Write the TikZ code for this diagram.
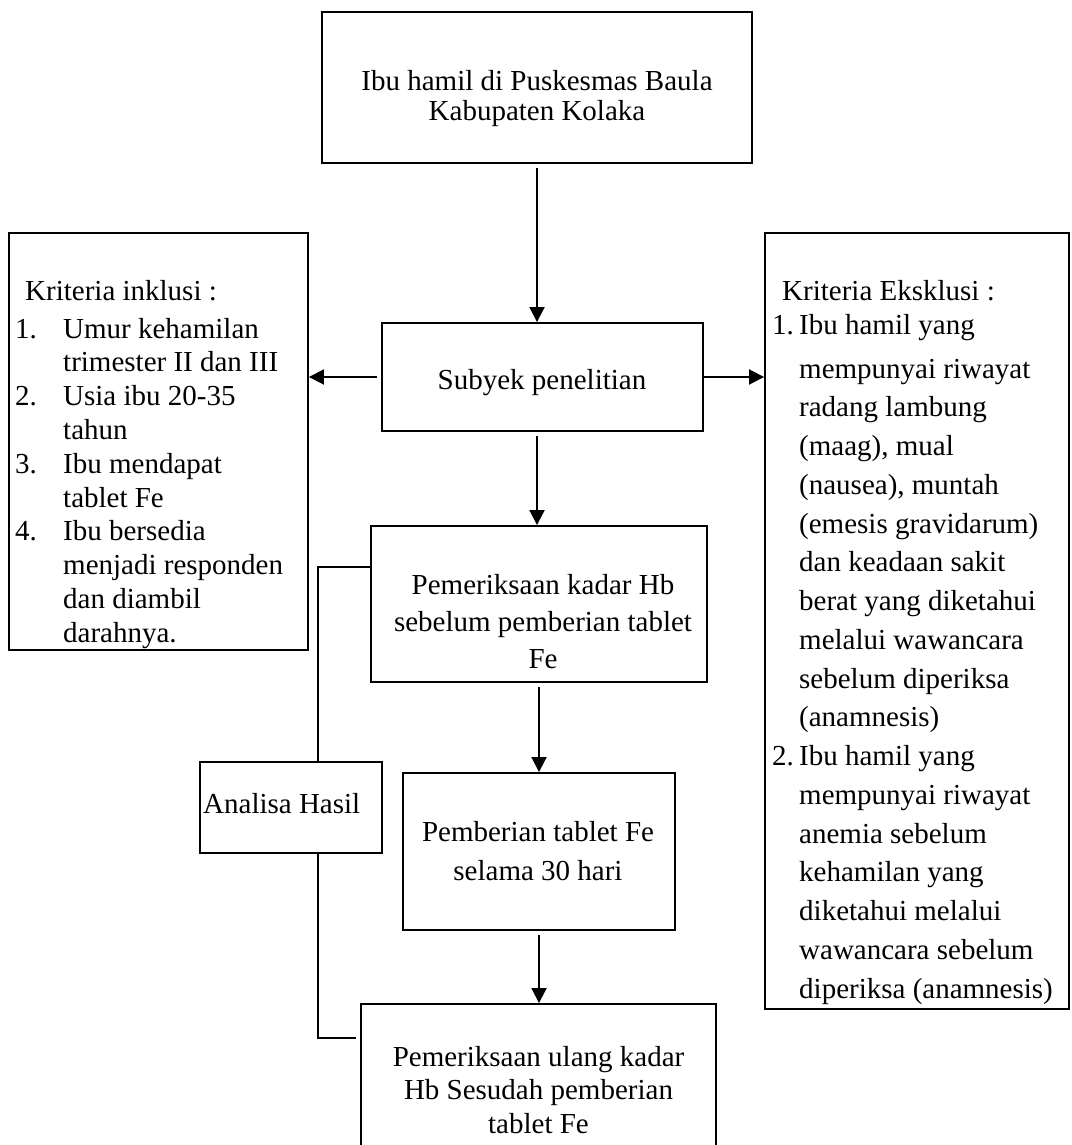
\documentclass[tikz,border=0pt]{standalone}
\usepackage{fontspec}
\setmainfont{Liberation Serif}
\usetikzlibrary{arrows.meta}
\newcommand\fsz[2]{\fontsize{#1}{#2}\selectfont}
\begin{document}
\begin{tikzpicture}[x=1pt,y=-1pt,
  box/.style={draw, line width=1.9pt, inner sep=0pt},
  thinbox/.style={draw, line width=1.2pt, inner sep=0pt},
  txt/.style={inner sep=0pt, anchor=base},
  arr/.style={line width=1.9pt, -{Triangle[length=15pt,width=15pt]}, shorten <=4pt},
  thinline/.style={line width=1.2pt}]
\useasboundingbox (0,0) rectangle (1071,1145);
\fill[white] (0,0) rectangle (1071,1145);
\clip (0,0) rectangle (1071,1145);

% boxes
\node[box, minimum width=430pt, minimum height=151pt] (top) at (537,87.5) {};
\node[box, minimum width=321pt, minimum height=108pt] (sub) at (542.5,377) {};
\node[box, minimum width=299pt, minimum height=417pt] (inc) at (158.5,441.5) {};
\node[box, minimum width=304pt, minimum height=776pt] (exc) at (917,621) {};
\node[box, minimum width=336pt, minimum height=156pt] (pre) at (539,604) {};
\node[box, minimum width=272pt, minimum height=157pt] (fe) at (539,851.5) {};
\node[box, minimum width=355pt, minimum height=156pt] (post) at (538.5,1082) {};
\node[thinbox, minimum width=182pt, minimum height=91pt] (ana) at (291,807.5) {};

% texts
\node[txt, font=\fsz{29}{29.5}] (topt) at (537,91)
  {\begin{tabular}[t]{@{}c@{}}Ibu hamil di Puskesmas Baula\\Kabupaten Kolaka\end{tabular}};
\node[txt, font=\fsz{29}{34}] (subt) at (542,389) {Subyek penelitian};
\node[txt, font=\fsz{29}{37}] (pret) at (543,594)
  {\begin{tabular}[t]{@{}c@{}}Pemeriksaan kadar Hb\\sebelum pemberian tablet\\Fe\end{tabular}};
\node[txt, font=\fsz{29}{39}] (fet) at (538,841)
  {\begin{tabular}[t]{@{}c@{}}Pemberian tablet Fe\\selama 30 hari\end{tabular}};
\node[txt, font=\fsz{29}{33.5}] (postt) at (538.5,1066)
  {\begin{tabular}[t]{@{}c@{}}Pemeriksaan ulang kadar\\Hb Sesudah pemberian\\tablet Fe\end{tabular}};
\node[txt, anchor=base west, font=\fsz{29}{34}] (anat) at (203,813) {Analisa Hasil};

\node[txt, anchor=base west, font=\fsz{29}{33.8}] (inct) at (15,300)
  {\begin{tabular}[t]{@{}p{48pt}@{}l@{}}
  \multicolumn{2}{@{}l@{}}{\hspace{10pt}Kriteria inklusi :}\\[4.2pt]
  1. & Umur kehamilan\\
     & trimester II dan III\\
  2. & Usia ibu 20-35\\
     & tahun\\
  3. & Ibu mendapat\\
     & tablet Fe\\
  4. & Ibu bersedia\\
     & menjadi responden\\
     & dan diambil\\
     & darahnya.
  \end{tabular}};

\node[txt, anchor=base west, font=\fsz{29}{38.75}] (exct) at (772,300)
  {\begin{tabular}[t]{@{}p{27pt}@{}l@{}}
  \multicolumn{2}{@{}l@{}}{\hspace{10pt}Kriteria Eksklusi :}\\[-4.75pt]
  1. & Ibu hamil yang\\[5.25pt]
     & mempunyai riwayat\\
     & radang lambung\\
     & (maag), mual\\
     & (nausea), muntah\\
     & (emesis gravidarum)\\
     & dan keadaan sakit\\
     & berat yang diketahui\\
     & melalui wawancara\\
     & sebelum diperiksa\\
     & (anamnesis)\\
  2. & Ibu hamil yang\\
     & mempunyai riwayat\\
     & anemia sebelum\\
     & kehamilan yang\\
     & diketahui melalui\\
     & wawancara sebelum\\
     & diperiksa (anamnesis)
  \end{tabular}};

% arrows
\draw[arr] (top.south) -- (top.south |- sub.north);
\draw[arr] (sub.west) -- (sub.west -| inc.east);
\draw[arr, shorten <=0pt] (sub.east) -- (sub.east -| exc.west);
\draw[arr] (sub.south -| top.south) -- (pre.north -| top.south);
\draw[arr] (pre.south -| fe.north) -- (fe.north);
\draw[arr] (fe.south) -- (fe.south |- post.north);

% analysis connectors
\draw[thinline] ([yshift=37pt]pre.west) -| ([xshift=27pt]ana.north);
\draw[thinline] ([xshift=27pt]ana.south) |- ([xshift=-4pt,yshift=44pt]post.west);
\end{tikzpicture}
\end{document}
